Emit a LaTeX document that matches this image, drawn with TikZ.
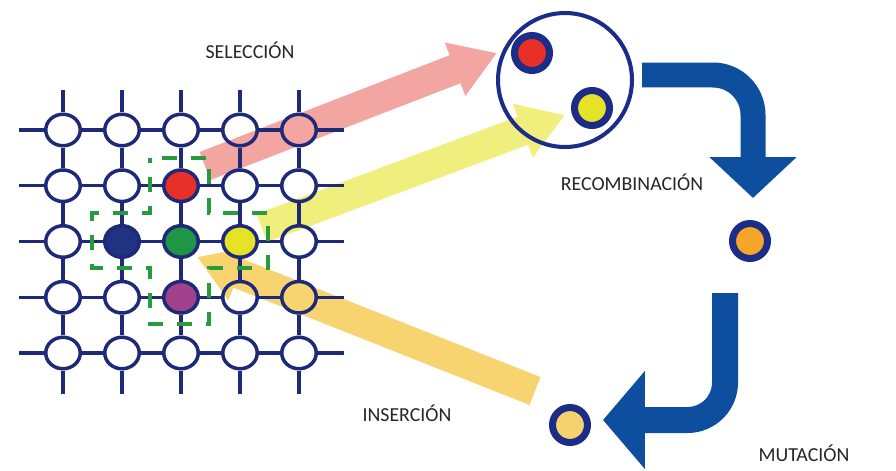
\documentclass[tikz,border=0pt]{standalone}
\usepackage{fontspec}
\setmainfont{Carlito}
\usetikzlibrary{arrows.meta,shapes.geometric}

\definecolor{gridblue}{RGB}{30,42,120}
\definecolor{ringblue}{RGB}{28,45,135}
\definecolor{turnblue}{RGB}{14,78,158}
\definecolor{pinkarrow}{RGB}{243,165,162}
\definecolor{yellowarrow}{RGB}{240,238,125}
\definecolor{orangearrow}{RGB}{248,212,112}
\definecolor{cred}{RGB}{232,48,40}
\definecolor{cgreen}{RGB}{30,150,70}
\definecolor{cyellow}{RGB}{230,226,40}
\definecolor{cpurple}{RGB}{160,65,140}
\definecolor{cnavy}{RGB}{32,50,130}
\definecolor{corange}{RGB}{245,165,40}
\definecolor{clight}{RGB}{246,210,110}
\definecolor{dashgreen}{RGB}{40,155,60}

\begin{document}
\begin{tikzpicture}[x=0.02cm,y=-0.02cm,
	cell/.style={ellipse,draw=gridblue,line width=2pt,minimum width=0.69cm,minimum height=0.63cm,inner sep=0pt},
	cell 2-3/.style={fill=cred},
	cell 3-2/.style={fill=cnavy},
	cell 3-3/.style={fill=cgreen},
	cell 3-4/.style={fill=cyellow},
	cell 4-3/.style={fill=cpurple},
	wire/.style={draw=gridblue,line width=1.9pt},
	neigh/.style={draw=dashgreen,line width=2pt,dash pattern=on 8.5pt off 8pt,dash phase=9.6pt},
	gene/.style={circle,draw=ringblue,line width=4pt,minimum size=0.7cm,inner sep=0pt},
	fat arrow/.style={line width=0.6cm,-{Triangle[length=0.9cm,width=1.08cm]}},
	turn arrow/.style={draw=turnblue,line width=0.5cm},
	stage text/.style={font=\fontsize{11.3}{13}\selectfont,text=black!85,anchor=base}]
	
	\path[use as bounding box,fill=white] (0,0) rectangle (896,470);
	
	% broad arrows under the grid
	\coordinate (sel1 tail) at (205,166);
	\coordinate (sel1 tip) at (497,53);
	\coordinate (sel2 tail) at (262,228);
	\coordinate (sel2 tip) at (565,115);
	\coordinate (ins tail) at (535,391);
	\coordinate (ins tip) at (197,257);
	\draw[fat arrow,draw=pinkarrow] (sel1 tail) -- (sel1 tip);
	\draw[fat arrow,draw=yellowarrow] (sel2 tail) -- (sel2 tip);
	\draw[fat arrow,draw=orangearrow] (ins tail) -- (ins tip);
	
	% population grid
	\foreach \row in {1,...,5}
		\foreach \col in {1,...,5}
			\node[cell,cell \row-\col/.try] (\row-\col) at ({63+59*(\col-1)},{130+55.75*(\row-1)}) {};
	
	\foreach \row in {1,...,5}{
		\foreach \col [count=\next from 2] in {1,...,4}
			\draw[wire] (\row-\col) -- (\row-\next);
		\draw[wire] (\row-1.west) -- ++(-25,0) (\row-5.east) -- ++(26,0);
	}
	\foreach \col in {1,...,5}{
		\foreach \row [count=\next from 2] in {1,...,4}
			\draw[wire] (\row-\col) -- (\next-\col);
		\draw[wire] (1-\col.north) -- ++(0,-22) (5-\col.south) -- ++(0,23);
	}
	
	% neighbourhood
	\draw[neigh] (150,158) -- (209,158) -- (209,213) -- (268,213) -- (268,268) -- (209,268) -- (209,324)
		-- (150,324) -- (150,268) -- (92,268) -- (92,213) -- (150,213) -- cycle;
	
	% parents, child, mutant
	\node[circle,draw=ringblue,line width=2.3pt,minimum size=2.68cm,inner sep=0pt] (pool) at (565,80) {};
	\node[gene,fill=cred] (red gene) at (532,53) {};
	\node[gene,fill=cyellow] (yellow gene) at (592,108) {};
	\node[gene,fill=corange] (child) at (750,241) {};
	\node[gene,fill=clight] (mutant) at (570,425) {};
	
	\coordinate (rec start) at (642,75);
	\coordinate (rec bend) at (753,75);
	\coordinate (rec tip) at (753,198);
	\draw[turn arrow,rounded corners=0.8cm,-{Triangle[length=0.82cm,width=1.7cm]}] (rec start) -- (rec bend) -- (rec tip);
	
	\coordinate (mut start) at (725,293);
	\coordinate (mut bend) at (725,420);
	\coordinate (mut tip) at (603,420);
	\draw[turn arrow,line width=0.52cm,rounded corners=0.75cm,-{Triangle[length=0.84cm,width=1.92cm]}] (mut start) -- (mut bend) -- (mut tip);
	
	\node[stage text] (sel) at (250,58) {SELECCIÓN};
	\node[stage text] (rec) at (632,190) {RECOMBINACIÓN};
	\node[stage text] (ins) at (407,421.5) {INSERCIÓN};
	\node[stage text] (mut) at (804,461.5) {MUTACIÓN};
\end{tikzpicture}
\end{document}
